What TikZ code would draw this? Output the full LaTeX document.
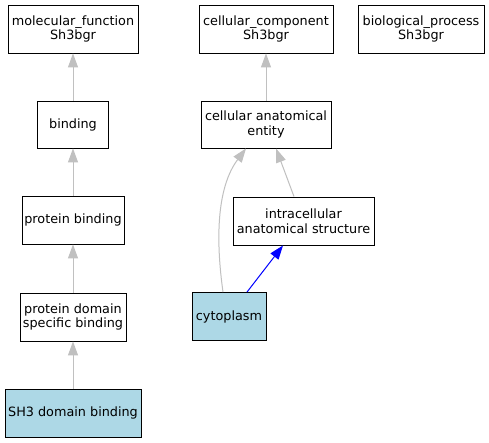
\documentclass[tikz,border=0pt]{standalone}
\usepackage{fontspec}
\setmainfont{DejaVu Sans}
\usetikzlibrary{arrows.meta}
\definecolor{edgegray}{HTML}{C0C0C0}
\definecolor{lblue}{HTML}{ADD8E6}
\tikzset{
  term/.style={draw=black, line width=0.9pt, rectangle, inner sep=0pt, align=center,
    font=\fontsize{12.8}{14.5}\selectfont, text=black},
  isa/.style={draw=edgegray, line width=1pt, -{Triangle[length=14pt,width=10pt]}},
  partof/.style={draw=blue, line width=1pt, -{Triangle[length=14pt,width=10pt]}},
}
\begin{document}
\begin{tikzpicture}[x=1pt,y=-1pt]
\fill[white] (0,0) rectangle (489,443);
\useasboundingbox (0,0) rectangle (489,443);
% left column
\node[term, minimum width=130pt, minimum height=48pt] (mf) at (73,29) {molecular\_function\\Sh3bgr};
\node[term, minimum width=71pt, minimum height=47pt] (bind) at (73,124.5) {binding};
\node[term, minimum width=102pt, minimum height=48pt] (pb) at (73,220) {protein binding};
\node[term, minimum width=106pt, minimum height=48pt] (pdsb) at (73,317) {protein domain\\specific binding};
\node[term, fill=lblue, minimum width=136pt, minimum height=48pt] (sh3) at (73,413) {SH3 domain binding};
% middle
\node[term, minimum width=134pt, minimum height=48pt] (cc) at (266,29) {cellular\_component\\Sh3bgr};
\node[term, minimum width=130pt, minimum height=47pt] (cae) at (266,124.5) {cellular anatomical\\entity};
\node[term, minimum width=141pt, minimum height=48pt] (ias) at (303.5,221) {intracellular\\anatomical structure};
\node[term, fill=lblue, minimum width=74pt, minimum height=48pt] (cyt) at (229,316.5) {cytoplasm};
% right
\node[term, minimum width=126pt, minimum height=48pt] (bp) at (421,29) {biological\_process\\Sh3bgr};
% edges
\draw[isa] (bind) -- (mf);
\draw[isa] (pb) -- (bind);
\draw[isa] (pdsb) -- (pb);
\draw[isa] (sh3) -- (pdsb);
\draw[isa] (cae) -- (cc);
\draw[isa] ([xshift=-9.5pt]ias.north) -- ([xshift=10pt]cae.south);
\draw[isa] ([xshift=-6pt]cyt.north) .. controls ([xshift=-13pt,yshift=50pt]cyt.north) and ([xshift=-50pt,yshift=-40pt]cae.south) .. ([xshift=-20pt]cae.south);
\draw[partof] ([xshift=18pt]cyt.north) -- ([xshift=-20.5pt]ias.south);
\end{tikzpicture}
\end{document}
